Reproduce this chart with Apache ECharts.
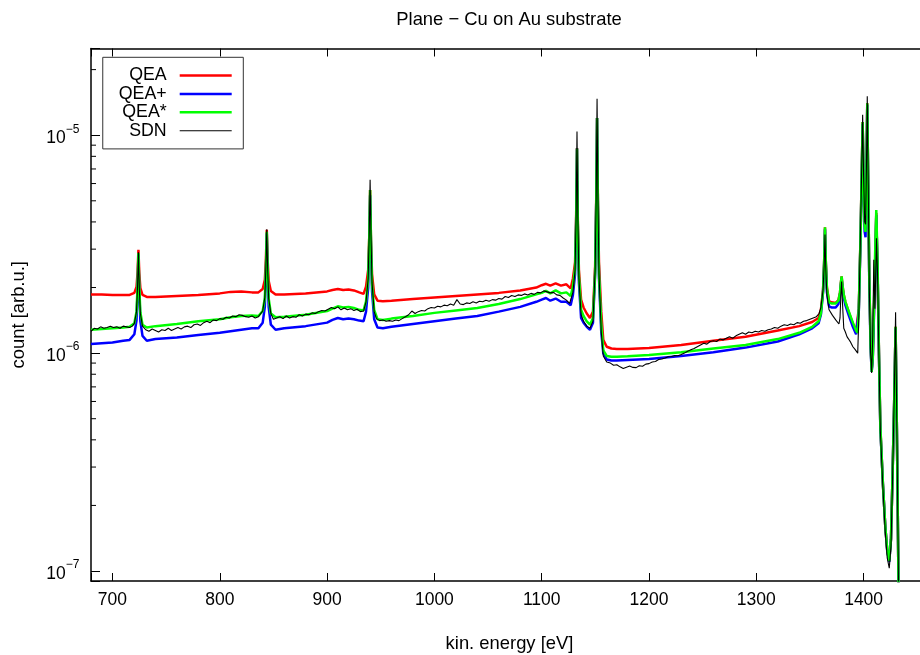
<!DOCTYPE html>
<html>
<head>
<meta charset="utf-8">
<script src="https://cdn.jsdelivr.net/npm/echarts@6/dist/echarts.min.js"></script>
<style>
  html, body { margin: 0; padding: 0; background: #fff; }
  #chart { width: 920px; height: 655px; }
</style>
</head>
<body>
<div id="chart"></div>
<script>
// All counts below are given in units of 1e-6 arb.u.
const UNIT = 1e-6;

// Shared energy grid of the three model spectra [eV]
const energy = [
  680, 690, 700, 710, 716,
  720.4, 722.4, 723.4, 724.2, 725.0, 726.0, 728.0,
  732, 740, 760, 780, 800, 810, 820, 830, 836,
  840, 842, 843, 843.8, 844.6, 845.6, 847.6,
  852, 860, 880, 900, 905, 910, 915, 920, 925, 930, 934,
  936.3, 938.3, 939.3, 940.1, 940.9, 941.9, 943.9,
  947, 952, 960, 980, 1000, 1020, 1040, 1060, 1080, 1095, 1100, 1104, 1108, 1113, 1118, 1123, 1127,
  1129.1, 1131.1, 1132.1, 1132.9, 1133.7, 1134.7, 1136.7, 1139, 1142, 1145,
  1147.8, 1149.8, 1150.8, 1151.6, 1152.4, 1153.4, 1155.5, 1157.4, 1160.6,
  1165, 1170, 1180, 1200, 1230, 1260, 1290, 1320, 1340, 1352, 1358,
  1360.2, 1362.2, 1363.2, 1364.0, 1364.8, 1365.8, 1367.8,
  1370, 1374, 1376.5, 1378, 1378.8, 1379.5, 1380.3, 1381.5, 1383, 1386, 1390, 1393, 1394.5,
  1395.5, 1397, 1398.2, 1399.1, 1400, 1401, 1401.8, 1402.6, 1403.4, 1404.3, 1405.3, 1406.5, 1407.5,
  1408.5, 1409.5, 1410.5, 1411.8, 1413, 1414.3, 1415.6, 1418, 1420.2, 1422, 1423.9, 1425.5, 1427,
  1428.5, 1429.8, 1431, 1432.6, 1434
];

const qea = [
  1.86, 1.86, 1.85, 1.85, 1.85,
  1.89, 2.01, 2.35, 2.98, 2.33, 1.99, 1.85,
  1.81, 1.81, 1.83, 1.85, 1.88, 1.91, 1.92, 1.90, 1.90,
  1.97, 2.17, 2.70, 3.68, 2.68, 2.14, 1.93,
  1.86, 1.86, 1.88, 1.92, 1.95, 1.97, 1.95, 1.96, 1.94, 1.90, 1.87,
  2.02, 2.41, 3.40, 5.60, 3.30, 2.30, 1.86,
  1.74, 1.73, 1.74, 1.77, 1.80, 1.83, 1.86, 1.89, 1.94, 2.00, 2.05, 2.08, 2.04, 2.09, 2.04, 2.07, 1.98,
  2.20, 2.60, 4.20, 8.74, 4.00, 2.40, 1.76, 1.62, 1.52, 1.45,
  1.55, 2.50, 5.00, 12.0, 5.00, 2.60, 1.55, 1.15, 1.07,
  1.05, 1.045, 1.045, 1.055, 1.09, 1.14, 1.19, 1.27, 1.33, 1.39, 1.45,
  1.58, 1.95, 2.60, 3.78, 2.60, 2.00, 1.73,
  1.71, 1.70, 1.75, 1.90, 2.10, 2.25, 2.05, 1.85, 1.72, 1.55, 1.36, 1.26, 1.24,
  1.60, 3.2, 6.5, 11.5, 6.0, 3.9, 3.7, 6.5, 14.0, 6.0, 2.2, 1.1, 0.84,
  0.95, 1.45, 2.3, 4.4, 2.4, 1.0, 0.46, 0.25, 0.16, 0.125, 0.111, 0.14, 0.28,
  0.6, 1.32, 0.45, 0.08, 0.05
];

const qeaPlus = [
  1.10, 1.11, 1.12, 1.14, 1.15,
  1.22, 1.41, 1.92, 2.85, 1.92, 1.40, 1.20,
  1.14, 1.16, 1.18, 1.21, 1.24, 1.26, 1.28, 1.30, 1.30,
  1.38, 1.63, 2.31, 3.55, 2.30, 1.62, 1.35,
  1.28, 1.30, 1.33, 1.38, 1.42, 1.45, 1.43, 1.44, 1.43, 1.41, 1.40,
  1.55, 1.99, 3.15, 5.30, 3.10, 1.92, 1.43,
  1.31, 1.30, 1.32, 1.36, 1.40, 1.44, 1.48, 1.55, 1.63, 1.72, 1.76, 1.79, 1.74, 1.78, 1.72, 1.72, 1.66,
  1.85, 2.30, 3.90, 8.70, 3.70, 2.10, 1.45, 1.38, 1.32, 1.28,
  1.38, 2.30, 4.80, 12.0, 4.70, 2.20, 1.25, 1.00, 0.935,
  0.925, 0.925, 0.93, 0.94, 0.97, 1.01, 1.06, 1.13, 1.22, 1.30, 1.37,
  1.50, 1.90, 2.55, 3.70, 2.55, 1.90, 1.64,
  1.62, 1.62, 1.68, 1.85, 2.05, 2.20, 2.00, 1.80, 1.66, 1.50, 1.32, 1.22, 1.20,
  1.55, 3.1, 6.3, 11.3, 5.8, 3.6, 3.4, 6.3, 13.8, 5.9, 2.1, 1.05, 0.82,
  0.93, 1.4, 2.2, 4.3, 2.4, 0.98, 0.45, 0.25, 0.16, 0.124, 0.11, 0.14, 0.28,
  0.6, 1.3, 0.45, 0.08, 0.05
];

const qeaStar = [
  1.28, 1.29, 1.30, 1.31, 1.32,
  1.37, 1.55, 2.02, 2.88, 2.01, 1.54, 1.35,
  1.31, 1.33, 1.36, 1.40, 1.43, 1.46, 1.48, 1.49, 1.48,
  1.56, 1.79, 2.43, 3.60, 2.42, 1.78, 1.52,
  1.46, 1.47, 1.50, 1.56, 1.60, 1.64, 1.62, 1.63, 1.61, 1.58, 1.57,
  1.73, 2.18, 3.40, 5.60, 3.35, 2.08, 1.58,
  1.43, 1.42, 1.44, 1.48, 1.53, 1.57, 1.61, 1.68, 1.77, 1.86, 1.89, 1.93, 1.88, 1.94, 1.88, 1.90, 1.83,
  2.02, 2.45, 4.00, 8.70, 3.85, 2.25, 1.58, 1.48, 1.40, 1.35,
  1.45, 2.35, 4.85, 12.0, 4.75, 2.30, 1.35, 1.03, 0.97,
  0.963, 0.963, 0.968, 0.98, 1.01, 1.05, 1.09, 1.16, 1.24, 1.32, 1.40,
  1.52, 1.93, 2.60, 3.78, 2.60, 1.98, 1.71,
  1.69, 1.69, 1.74, 1.90, 2.10, 2.25, 2.05, 1.86, 1.72, 1.56, 1.38, 1.27, 1.24,
  1.60, 3.2, 6.5, 11.5, 6.0, 3.8, 3.6, 6.5, 14.0, 6.0, 2.2, 1.1, 0.82,
  0.95, 1.5, 2.6, 4.54, 2.6, 1.0, 0.46, 0.25, 0.16, 0.125, 0.111, 0.14, 0.28,
  0.6, 1.32, 0.45, 0.08, 0.05
];

// Measured spectrum on its own energy grid [eV]
const sdnEnergy = [
  680, 683, 686, 689, 692, 695, 698, 701, 704, 707, 710, 713, 716, 718.5,
  720.4, 722.4, 723.4, 724.2, 725.0, 726.0, 728.0,
  731, 734, 737, 740, 743, 746, 749, 752, 755, 758, 761, 764, 767, 770, 773, 776, 779, 782,
  785, 788, 791, 794, 797, 800, 803, 806, 809, 812, 815, 818, 821, 824, 827, 830, 833, 836,
  840, 842, 843, 843.8, 844.6, 845.6, 847.6,
  850, 853, 856, 859, 862, 865, 868, 871, 874, 877, 880, 883, 886, 889, 892, 895, 898, 901,
  904, 907, 910, 913, 916, 919, 922, 925, 928, 931, 934,
  936.3, 938.3, 939.3, 940.1, 940.9, 941.9, 943.9,
  946, 949, 952, 955, 958, 961, 964, 967, 970, 973, 976, 979, 982, 985, 988, 991, 994, 997,
  1000, 1003, 1006, 1009, 1012, 1015, 1018, 1021, 1024, 1027, 1030, 1033, 1036, 1039, 1042,
  1045, 1048, 1051, 1054, 1057, 1060, 1063, 1066, 1069, 1072, 1075, 1078, 1081, 1084, 1087,
  1090, 1093, 1096, 1099, 1102, 1105, 1108, 1111, 1114, 1117, 1120, 1123, 1126,
  1129.1, 1131.1, 1132.1, 1132.9, 1133.7, 1134.7, 1136.7, 1139, 1142, 1145,
  1147.8, 1149.8, 1150.8, 1151.6, 1152.4, 1153.4, 1155.5, 1157.4, 1160.6,
  1164, 1167, 1170, 1173, 1176, 1179, 1182, 1185, 1188, 1191, 1194, 1197, 1200, 1203, 1206,
  1209, 1212, 1215, 1218, 1221, 1224, 1227, 1230, 1233, 1236, 1239, 1242, 1245, 1248, 1251,
  1254, 1257, 1260, 1263, 1266, 1269, 1272, 1275, 1278, 1281, 1284, 1287, 1290, 1293, 1296,
  1299, 1302, 1305, 1308, 1311, 1314, 1317, 1320, 1323, 1326, 1329, 1332, 1335, 1338, 1341,
  1344, 1347, 1350, 1353, 1356, 1358.5,
  1360.2, 1362.2, 1363.2, 1364.0, 1364.8, 1365.8, 1367.8,
  1369.5, 1371, 1372.5, 1374, 1375.5, 1377, 1378, 1378.8, 1379.5, 1380.3, 1381.5, 1383, 1384.5,
  1386, 1388, 1390, 1392, 1394.5,
  1395.5, 1397, 1398.2, 1399.1, 1400, 1401, 1401.8, 1402.6, 1403.4, 1404.3, 1405.3, 1406.5,
  1407.5, 1408.5, 1409.5, 1410.5, 1411.2, 1412, 1413, 1414.3, 1415.6, 1418, 1420.2, 1422,
  1423.9, 1425.5, 1427, 1428.5, 1429.8, 1431, 1432.6, 1434
];

const sdn = [
  1.26, 1.30, 1.29, 1.32, 1.30, 1.31, 1.33, 1.31, 1.32, 1.30, 1.33, 1.32, 1.31, 1.33,
  1.37, 1.55, 2.03, 2.90, 2.00, 1.52, 1.33,
  1.28, 1.26, 1.29, 1.27, 1.25, 1.28, 1.27, 1.30, 1.27, 1.29, 1.31, 1.29, 1.32, 1.33, 1.31, 1.35, 1.36, 1.34,
  1.38, 1.40, 1.38, 1.42, 1.41, 1.44, 1.43, 1.46, 1.45, 1.48, 1.47, 1.50, 1.49, 1.47, 1.46, 1.48, 1.45, 1.47,
  1.56, 1.80, 2.47, 3.70, 2.45, 1.78, 1.52,
  1.43, 1.45, 1.47, 1.44, 1.48, 1.45, 1.47, 1.46, 1.50, 1.48, 1.51, 1.50, 1.53, 1.52, 1.55, 1.57, 1.56, 1.59,
  1.62, 1.60, 1.63, 1.58, 1.61, 1.58, 1.60, 1.57, 1.59, 1.55, 1.56,
  1.72, 2.20, 3.60, 6.24, 3.50, 2.10, 1.55,
  1.44, 1.41, 1.42, 1.40, 1.41, 1.40, 1.42, 1.41, 1.44, 1.47, 1.50, 1.56, 1.52, 1.55, 1.57, 1.56, 1.60, 1.62,
  1.61, 1.64, 1.63, 1.66, 1.65, 1.68, 1.66, 1.76, 1.68, 1.67, 1.70, 1.69, 1.72, 1.70, 1.73,
  1.72, 1.75, 1.73, 1.76, 1.75, 1.78, 1.77, 1.82, 1.80, 1.84, 1.82, 1.85, 1.84, 1.87, 1.85,
  1.88, 1.86, 1.90, 1.89, 1.93, 1.91, 1.89, 1.90, 1.85, 1.84, 1.79, 1.75, 1.69,
  1.90, 2.40, 4.30, 10.4, 4.20, 2.20, 1.50, 1.40, 1.33, 1.30,
  1.40, 2.40, 5.30, 14.7, 5.20, 2.30, 1.25, 0.97, 0.91,
  0.90, 0.88, 0.885, 0.865, 0.85, 0.862, 0.872, 0.86, 0.858, 0.875, 0.87, 0.89, 0.895, 0.91, 0.915,
  0.935, 0.94, 0.95, 0.962, 0.965, 0.975, 0.972, 0.985, 1.00, 1.02, 1.035, 1.05, 1.07, 1.09, 1.11,
  1.10, 1.13, 1.14, 1.13, 1.16, 1.15, 1.17, 1.19, 1.17, 1.20, 1.22, 1.24, 1.22, 1.25, 1.24,
  1.26, 1.25, 1.27, 1.26, 1.28, 1.29, 1.31, 1.30, 1.33, 1.35, 1.34, 1.36, 1.35, 1.38, 1.37,
  1.40, 1.41, 1.43, 1.45, 1.47, 1.52,
  1.62, 1.95, 2.50, 3.50, 2.40, 1.85, 1.58,
  1.55, 1.49, 1.46, 1.42, 1.40, 1.36, 1.45, 1.85, 2.13, 1.70, 1.30, 1.25, 1.19,
  1.16, 1.12, 1.07, 1.04, 1.00,
  1.45, 3.4, 7.0, 12.4, 6.5, 4.0, 3.9, 7.0, 15.1, 6.0, 2.0, 1.0,
  0.81, 1.2, 2.68, 1.6, 2.2, 3.37, 2.3, 0.95, 0.44, 0.24, 0.15, 0.115,
  0.103, 0.13, 0.27, 0.62, 1.54, 0.45, 0.08, 0.05
];

// Axis ranges and labelled ticks
const xRange = [680, 1460];
const yRange = [9e-8, 2.5e-5];
const xTickStep = 100;
// Minor log ticks (2..9 x 10^n) inside the y range
const minorTicks = [
  2e-7, 3e-7, 4e-7, 5e-7, 6e-7, 7e-7, 8e-7, 9e-7,
  2e-6, 3e-6, 4e-6, 5e-6, 6e-6, 7e-6, 8e-6, 9e-6,
  2e-5
];

const FONT = '"Liberation Sans", Arial, Helvetica, sans-serif';

function toPairs(xs, ys) {
  return xs.map((x, i) => [x, ys[i] * UNIT]);
}

const chart = echarts.init(document.getElementById('chart'), null, { renderer: 'canvas' });

const tickLine = { show: true, lineStyle: { color: '#000', width: 1 } };

const option = {
  animation: false,
  backgroundColor: '#fff',
  textStyle: { fontFamily: FONT },
  title: {
    text: 'Plane \u2212 Cu on Au substrate',
    left: 509,
    top: 10.5,
    padding: 0,
    textAlign: 'center',
    textStyle: { fontFamily: FONT, fontSize: 18.4, fontWeight: 'normal', color: '#000' }
  },
  legend: {
    orient: 'vertical',
    align: 'right',
    right: 676.7,
    top: 57.3,
    padding: [9.2, 11.6, 9.2, 16],
    itemGap: 0.4,
    itemWidth: 52,
    itemHeight: 2.5,
    borderColor: '#333',
    borderWidth: 1,
    backgroundColor: '#fff',
    selectedMode: false,
    textStyle: { fontFamily: FONT, fontSize: 17.8, color: '#000', lineHeight: 18, padding: [0, 8, 0, 0] },
    data: [
      { name: 'QEA', icon: 'path://M0,0H52V2.5H0Z' },
      { name: 'QEA+', icon: 'path://M0,0H52V2.5H0Z' },
      { name: 'QEA*', icon: 'path://M0,0H52V2.5H0Z' },
      { name: 'SDN', icon: 'path://M0,0H52V1H0Z' }
    ]
  },
  grid: {
    left: 91,
    right: -8,
    top: 48.5,
    bottom: 74,
    outerBoundsMode: 'none',
    containLabel: false
  },
  xAxis: [
    {
      type: 'value',
      position: 'bottom',
      min: xRange[0],
      max: xRange[1],
      minInterval: xTickStep,
      maxInterval: xTickStep,
      name: 'kin. energy [eV]',
      nameLocation: 'middle',
      nameGap: 54,
      nameTextStyle: { fontFamily: FONT, fontSize: 18.4, color: '#000' },
      axisLine: { show: true, lineStyle: { color: '#000', width: 1.5 } },
      axisTick: Object.assign({ inside: true, length: 8 }, tickLine),
      axisLabel: {
        margin: 10.5,
        color: '#000',
        fontFamily: FONT,
        fontSize: 17.5,
        formatter: v => (v % xTickStep === 0 ? String(v) : '')
      },
      splitLine: { show: false }
    },
    {
      type: 'value',
      position: 'top',
      min: xRange[0],
      max: xRange[1],
      minInterval: xTickStep,
      maxInterval: xTickStep,
      axisLine: { show: true, lineStyle: { color: '#000', width: 1.5 } },
      axisTick: Object.assign({ inside: true, length: 8 }, tickLine),
      axisLabel: { show: false },
      splitLine: { show: false }
    }
  ],
  yAxis: {
    type: 'log',
    logBase: 10,
    min: yRange[0],
    max: yRange[1],
    name: 'count [arb.u.]',
    nameLocation: 'middle',
    nameGap: 63,
    nameTextStyle: { fontFamily: FONT, fontSize: 18.4, color: '#000' },
    axisLine: { show: true, lineStyle: { color: '#000', width: 1.5 } },
    axisTick: Object.assign({ inside: true, length: 9 }, tickLine),
    axisLabel: {
      margin: 11.5,
      color: '#000',
      fontFamily: FONT,
      formatter: function (v) {
        const e = Math.log10(v);
        const r = Math.round(e);
        if (Math.abs(e - r) > 1e-6) return '';
        return '{b|10}{sup|' + (r < 0 ? '\u2212' : '') + Math.abs(r) + '}{pad|\u200b}';
      },
      rich: {
        b: { fontFamily: FONT, fontSize: 17.5, lineHeight: 18, verticalAlign: 'bottom', color: '#000' },
        sup: { fontFamily: FONT, fontSize: 12, lineHeight: 13, verticalAlign: 'top', color: '#000' },
        pad: { fontSize: 1, lineHeight: 24 }
      }
    },
    splitLine: { show: false }
  },
  series: [
    {
      name: 'QEA', type: 'line', symbol: 'none', color: '#ff0000',
      lineStyle: { width: 2.5, color: '#ff0000' },
      data: toPairs(energy, qea)
    },
    {
      name: 'QEA+', type: 'line', symbol: 'none', color: '#0000ff',
      lineStyle: { width: 2.5, color: '#0000ff' },
      data: toPairs(energy, qeaPlus)
    },
    {
      name: 'QEA*', type: 'line', symbol: 'none', color: '#00ff00',
      lineStyle: { width: 2.5, color: '#00ff00' },
      data: toPairs(energy, qeaStar)
    },
    {
      name: 'SDN', type: 'line', symbol: 'none', color: '#000000',
      lineStyle: { width: 1.1, color: '#000000' },
      data: toPairs(sdnEnergy, sdn)
    },
    {
      // minor log ticks on the left axis
      type: 'custom',
      silent: true,
      data: minorTicks.map(v => [xRange[0], v]),
      renderItem: function (params, api) {
        const p = api.coord([api.value(0), api.value(1)]);
        return {
          type: 'line',
          shape: { x1: p[0], y1: p[1], x2: p[0] + 5, y2: p[1] },
          style: { stroke: '#000', lineWidth: 1 }
        };
      }
    }
  ]
};

chart.setOption(option);
</script>
</body>
</html>
